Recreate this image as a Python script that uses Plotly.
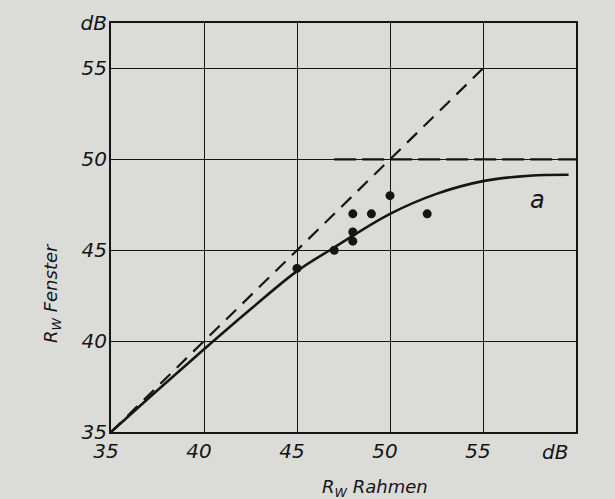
import plotly.graph_objects as go

# Measured points (R_w Rahmen, R_w Fenster)
rahmen_pts = [45, 47, 48, 48, 48, 49, 50, 52]
fenster_pts = [44.0, 45.0, 46.0, 45.5, 47.0, 47.0, 48.0, 47.0]

# Curve a
curve_x = [35, 37.5, 40, 42.5, 45, 47, 50, 52.5, 55, 57.5, 59.6]
curve_y = [35, 37.3, 39.55, 41.75, 43.85, 45.15, 47.0, 48.1, 48.8, 49.1, 49.15]

# Dashed reference lines
diag_x = [35, 55]
diag_y = [35, 55]
limit_x = [47, 60]
limit_y = [50, 50]

x_ticks = [35, 40, 45, 50, 55]
y_ticks = [35, 40, 45, 50, 55, 57.5]
y_ticktext = ["35", "40", "45", "50", "55", "dB"]

FONT = "DejaVu Sans"
BG = "#dbdbd8"
INK = "#151515"

fig = go.Figure()
fig.add_trace(go.Scatter(x=diag_x, y=diag_y, mode="lines",
                         line=dict(color=INK, width=2.2, dash="14px,9px")))
fig.add_trace(go.Scatter(x=limit_x, y=limit_y, mode="lines",
                         line=dict(color=INK, width=2.2, dash="22px,6px")))
fig.add_trace(go.Scatter(x=curve_x, y=curve_y, mode="lines",
                         line=dict(color=INK, width=2.6, shape="spline", smoothing=1.0)))
fig.add_trace(go.Scatter(x=rahmen_pts, y=fenster_pts, mode="markers",
                         marker=dict(color=INK, size=9)))

axis_common = dict(showgrid=True, gridcolor=INK, gridwidth=1.3,
                   showline=True, linecolor=INK, linewidth=2, mirror=True,
                   zeroline=False, ticks="", automargin=False,
                   tickfont=dict(family=FONT, size=20, color=INK, style="italic"))

fig.update_xaxes(range=[35, 60], tickvals=x_ticks, ticktext=[str(v) for v in x_ticks],
                 ticklabelshift=-5, ticklabelstandoff=0, **axis_common)
fig.update_yaxes(range=[35, 57.5], tickvals=y_ticks, ticktext=y_ticktext,
                 ticklabelstandoff=-2, **axis_common)

fig.add_annotation(x=555, y=452, xref="paper", yref="paper", text="dB", showarrow=False,
                   font=dict(family=FONT, size=20, color=INK, style="italic"))
fig.add_annotation(x=537, y=200, xref="paper", yref="paper", text="a", showarrow=False,
                   font=dict(family=FONT, size=24, color=INK, style="italic"))
fig.add_annotation(x=375, y=488, xref="paper", yref="paper", text="R<sub>W</sub> Rahmen",
                   showarrow=False, font=dict(family=FONT, size=18, color=INK, style="italic"))
fig.add_annotation(x=52, y=293, xref="paper", yref="paper", text="R<sub>W</sub> Fenster",
                   textangle=-90, showarrow=False,
                   font=dict(family=FONT, size=18, color=INK, style="italic"))

# convert pixel positions of the annotations to paper coords
L, R, T, B = 111, 39, 23, 67
W, H = 615, 499
pw, ph = W - L - R, H - T - B
for ann in fig.layout.annotations:
    if ann.xref == "paper":
        px, py = ann.x, ann.y
        ann.x = (px - L) / pw
        ann.y = (H - B - py) / ph
        ann.xanchor = "center"
        ann.yanchor = "middle"

fig.update_layout(width=W, height=H, margin=dict(l=L, r=R, t=T, b=B, autoexpand=False),
                  paper_bgcolor=BG, plot_bgcolor=BG, showlegend=False)
fig.write_html("out.html", config={"displayModeBar": False},
               post_script="document.body.style.margin='0';document.body.style.overflow='hidden';")
